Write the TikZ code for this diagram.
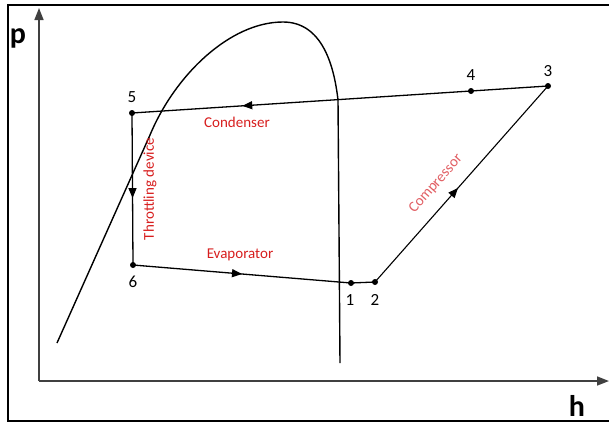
\documentclass[tikz,border=0pt]{standalone}
\usepackage{fontspec}
\setmainfont{Carlito}
\usetikzlibrary{arrows.meta,decorations.markings}
\definecolor{lblred}{RGB}{215,30,30}
\definecolor{lblpink}{RGB}{225,95,100}
\tikzset{
  pt/.style={circle,fill=black,inner sep=0pt,minimum size=6pt},
  num/.style={font=\fontsize{17}{17}\selectfont},
  ax/.style={line width=1.6pt,draw=black!75},
  ln/.style={line width=1.3pt},
  lbl/.style={text=lblred,font=\fontsize{15}{15}\selectfont,inner sep=0pt},
  midarrow/.style={postaction={decorate},decoration={markings,
     mark=at position #1 with {\arrow{Triangle[length=10pt,width=8pt]}}}}
}
\begin{document}
\begin{tikzpicture}[x=1pt,y=-1pt]
\useasboundingbox (0,0) rectangle (609,423);
% frame
\draw[line width=1.5pt] (612,5) -- (8,5) -- (8,421) -- (612,421);
% axes
\coordinate (o) at (39,381);
\coordinate (ytop) at (39,8);
\coordinate (xend) at (609,381);
\draw[ax,-{Triangle[length=12pt,width=9pt]}] (o) -- (ytop);
\draw[ax,-{Triangle[length=12pt,width=9pt]}] (o) -- (xend);
\node[font=\fontsize{30}{30}\bfseries\selectfont] (plab) at (18,38) {p};
\node[font=\fontsize{30}{30}\bfseries\selectfont] (hlab) at (577,406) {h};
% saturation dome
\draw[ln,line width=1.4pt] (57,343) -- (150,135) .. controls (175,75) and (230,22) .. (283,22)
   .. controls (322,22) and (334,65) .. (338,100) -- (340,363);
% points
\node[pt] (p5) at (132,113) {};
\node[pt] (p6) at (133,265) {};
\node[pt] (p1) at (351,283) {};
\node[pt] (p2) at (375,282) {};
\node[pt] (p3) at (548,86) {};
\node[pt] (p4) at (471,91) {};
\node[num] (n5) at (132,97) {5};
\node[num] (n6) at (133,282) {6};
\node[num] (n1) at (350,300) {1};
\node[num] (n2) at (375,300) {2};
\node[num] (n3) at (548,71) {3};
\node[num] (n4) at (471,75) {4};
% cycle
\draw[ln,midarrow=0.735] (p3.center) -- (p5.center);
\draw[ln,midarrow=0.56] (p5.center) -- (p6.center);
\draw[ln,midarrow=0.5] (p6.center) -- (p1.center);
\draw[ln] (p1.center) -- (p2.center);
\draw[line width=1.1pt,midarrow=0.48] (p2.center) -- (p3.center);
% labels
\node[lbl] (lcond) at (237,122) {Condenser};
\node[lbl] (levap) at (240,255) {Evaporator};
\node[lbl,rotate=90] (lthr) at (150,189) {Throttling device};
\node[lbl,text=lblpink,rotate=48.6] (lcomp) at (436,184) {Compressor};
\end{tikzpicture}
\end{document}
